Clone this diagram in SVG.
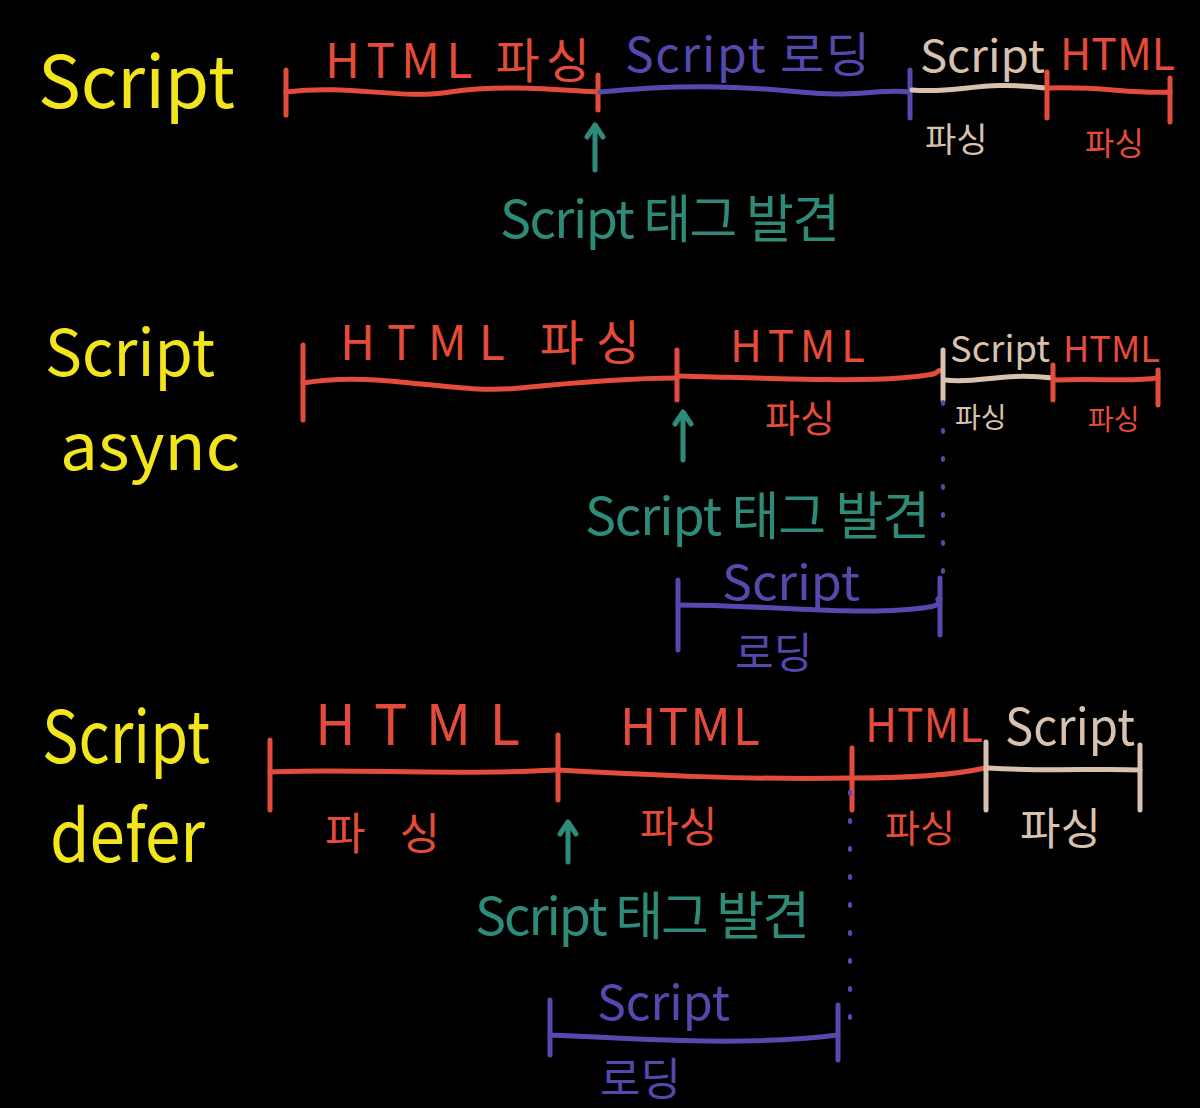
<svg xmlns="http://www.w3.org/2000/svg" width="1200" height="1108" viewBox="0 0 1200 1108">
<style>
text{font-family:"Noto Sans CJK KR","Noto Sans",sans-serif;font-weight:400}
.ttl{fill:#f2e51c;font-size:72px}
.ttl2{fill:#f2e51c;font-size:64px}
.r{stroke:#e34b3a}.b{stroke:#5548ae}.g{stroke:#d8c2ad}.t{stroke:#2e8b7a}
.ln{fill:none;stroke-width:5;stroke-linecap:round;stroke-linejoin:round}
.tr{fill:#e34b3a}.tb{fill:#5548ae}.tg{fill:#d8c2ad}.tt{fill:#2e8b7a}
.dot{fill:none;stroke:#5548ae;stroke-width:4;stroke-linecap:round;stroke-dasharray:2 26}
</style>
<rect width="1200" height="1108" fill="#000"/>

<g id="titles">
<text class="ttl" x="38" y="108" textLength="197" lengthAdjust="spacingAndGlyphs">Script</text>
<text class="ttl2" x="45" y="376" textLength="170" lengthAdjust="spacingAndGlyphs">Script</text>
<text class="ttl2" x="60" y="470" textLength="180" lengthAdjust="spacingAndGlyphs">async</text>
<text class="ttl" x="42" y="763" textLength="168" lengthAdjust="spacingAndGlyphs">Script</text>
<text class="ttl" x="50" y="862" textLength="155" lengthAdjust="spacingAndGlyphs">defer</text>
</g>

<!-- Row 1: script -->
<g id="r1-html1">
<path class="ln r" d="M286 92 C350 84 400 100 450 92 S560 90 598 92"/>
<path class="ln r" d="M286 70 V115 M598 75 V110"/>
<text class="tr" x="325" y="78" font-size="48" textLength="265" lengthAdjust="spacing">HTML 파싱</text>
</g>
<g id="r1-load">
<path class="ln b" d="M600 92 C680 84 740 86 800 92 S880 88 910 92"/>
<path class="ln b" d="M910 70 V118"/>
<text class="tb" x="625" y="72" font-size="48" textLength="245" lengthAdjust="spacing">Script 로딩</text>
</g>
<g id="r1-exec">
<path class="ln g" d="M912 90 C960 94 980 80 1045 88"/>
<text class="tg" x="920" y="72" font-size="44" textLength="125" lengthAdjust="spacingAndGlyphs">Script</text>
<text class="tg" x="925" y="152" font-size="34">파싱</text>
</g>
<g id="r1-html2">
<path class="ln r" d="M1047 72 V118 M1170 78 V122"/>
<path class="ln r" d="M1049 88 C1100 86 1130 94 1170 92"/>
<text class="tr" x="1060" y="70" font-size="44" textLength="115" lengthAdjust="spacingAndGlyphs">HTML</text>
<text class="tr" x="1085" y="155" font-size="32">파싱</text>
</g>
<g id="r1-found">
<text class="tt" x="500" y="238" font-size="52" textLength="340" lengthAdjust="spacing">Script 태그 발견</text>
</g>

<!-- Row 2: async -->
<g id="r2-html1">
<path class="ln r" d="M303 383 C380 370 450 395 520 388 S640 378 677 378"/>
<path class="ln r" d="M303 345 V420 M677 350 V400"/>
<text class="tr" x="340" y="360" font-size="48" textLength="300" lengthAdjust="spacing">HTML 파싱</text>
</g>
<g id="r2-html2">
<path class="ln r" d="M680 376 C760 378 850 382 900 378 S930 372 942 370"/>
<text class="tr" x="730" y="362" font-size="44" textLength="135" lengthAdjust="spacing">HTML</text>
<text class="tr" x="765" y="432" font-size="38">파싱</text>
</g>
<g id="r2-exec">
<path class="ln g" d="M943 350 V400"/>
<path class="ln g" d="M945 380 C980 384 1000 372 1053 378"/>
<text class="tg" x="950" y="362" font-size="36" textLength="100" lengthAdjust="spacingAndGlyphs">Script</text>
<text class="tg" x="955" y="428" font-size="28">파싱</text>
</g>
<g id="r2-html3">
<path class="ln r" d="M1053 365 V400 M1158 370 V405"/>
<path class="ln r" d="M1055 380 C1100 378 1130 382 1158 378"/>
<text class="tr" x="1063" y="362" font-size="36" textLength="97" lengthAdjust="spacingAndGlyphs">HTML</text>
<text class="tr" x="1088" y="430" font-size="28">파싱</text>
</g>
<g id="r2-found">
<text class="tt" x="585" y="535" font-size="52" textLength="345" lengthAdjust="spacing">Script 태그 발견</text>
</g>
<g id="r2-load">
<path class="ln b" d="M678 605 C760 605 840 614 900 610 S930 600 940 598"/>
<path class="ln b" d="M678 580 V650 M940 578 V635"/>
<text class="tb" x="722" y="600" font-size="48" textLength="138" lengthAdjust="spacingAndGlyphs">Script</text>
<text class="tb" x="735" y="668" font-size="42">로딩</text>
</g>

<!-- Row 3: defer -->
<g id="r3-html1">
<path class="ln r" d="M270 772 C350 768 450 776 555 770"/>
<path class="ln r" d="M270 740 V810 M558 735 V800"/>
<text class="tr" x="315" y="745" font-size="56" textLength="205" lengthAdjust="spacing">HTML</text>
<text class="tr" x="325" y="850" font-size="44" textLength="115" lengthAdjust="spacing">파싱</text>
</g>
<g id="r3-html2">
<path class="ln r" d="M558 770 C650 775 750 780 852 778"/>
<text class="tr" x="620" y="745" font-size="50" textLength="140" lengthAdjust="spacing">HTML</text>
<text class="tr" x="640" y="842" font-size="42">파싱</text>
</g>
<g id="r3-html3">
<path class="ln r" d="M852 748 V810"/>
<path class="ln r" d="M852 778 C900 778 950 776 985 768"/>
<text class="tr" x="865" y="742" font-size="46" textLength="118" lengthAdjust="spacingAndGlyphs">HTML</text>
<text class="tr" x="885" y="842" font-size="38">파싱</text>
</g>
<g id="r3-exec">
<path class="ln g" d="M986 742 V810 M1140 745 V810"/>
<path class="ln g" d="M988 768 C1050 772 1100 768 1140 770"/>
<text class="tg" x="1005" y="745" font-size="50" textLength="130" lengthAdjust="spacingAndGlyphs">Script</text>
<text class="tg" x="1020" y="845" font-size="44">파싱</text>
</g>
<g id="r3-found">
<text class="tt" x="475" y="935" font-size="52" textLength="335" lengthAdjust="spacing">Script 태그 발견</text>
</g>
<g id="r3-load">
<path class="ln b" d="M550 1035 C650 1040 750 1046 838 1035"/>
<path class="ln b" d="M550 1000 V1055 M838 1005 V1060"/>
<text class="tb" x="597" y="1020" font-size="48" textLength="133" lengthAdjust="spacingAndGlyphs">Script</text>
<text class="tb" x="600" y="1095" font-size="44">로딩</text>
</g>

<g id="connectors">
<path class="ln t" d="M595 170 V125 M587 137 L595 125 L603 137"/>
<path class="ln t" d="M683 460 V412 M675 424 L683 412 L691 424"/>
<path class="ln t" d="M568 862 V822 M560 834 L568 822 L576 834"/>
<path class="dot" d="M943 402 V590"/>
<path class="dot" d="M850 792 V1030"/>
</g>
</svg>
